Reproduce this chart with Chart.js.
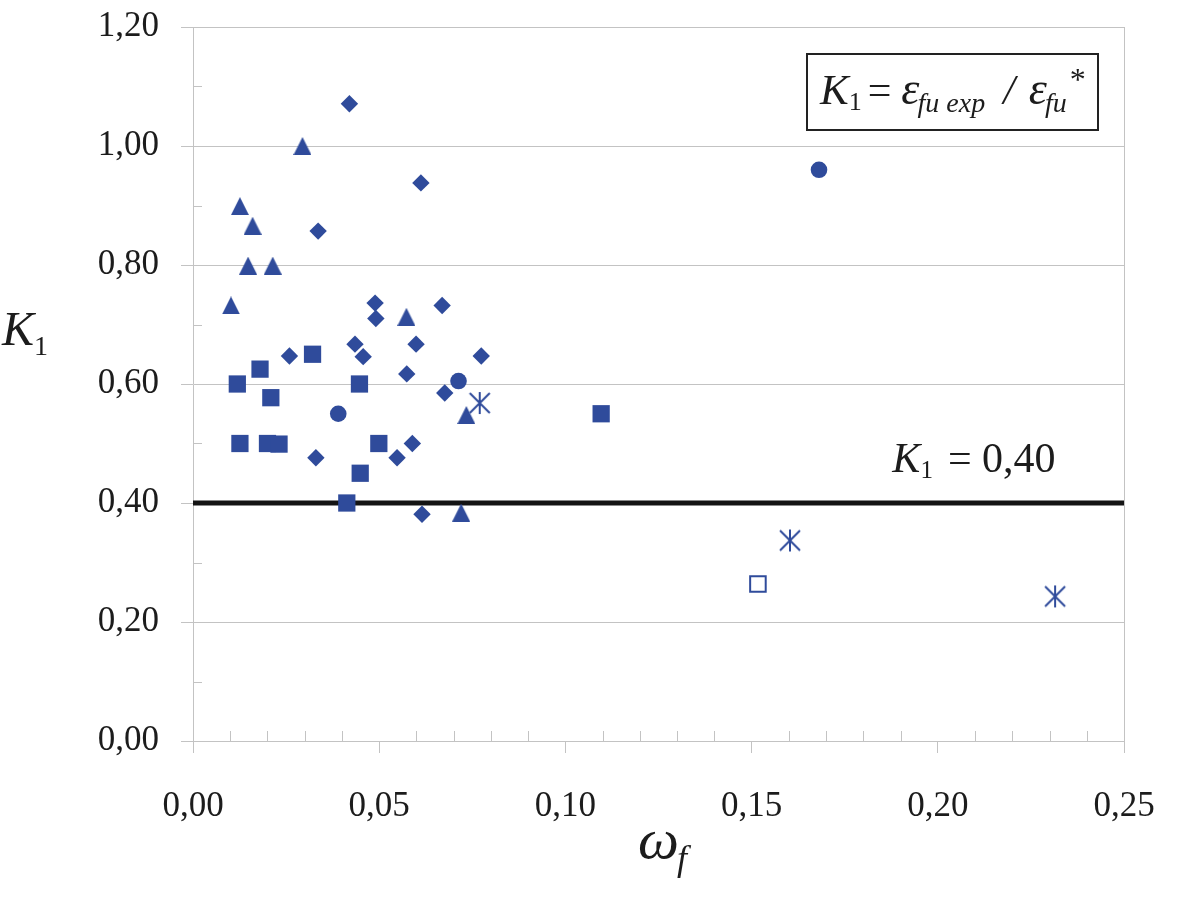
<!DOCTYPE html>
<html>
<head>
<meta charset="utf-8">
<script src="https://cdn.jsdelivr.net/npm/chart.js@4.4.1/dist/chart.umd.min.js"></script>
<style>
  html, body { margin: 0; padding: 0; background: #fff; }
</style>
</head>
<body>
<canvas id="k1Chart" width="1181" height="907"></canvas>
<script>
// omega_f (x) and K1 (y) values, one pair of arrays per marker type
var diamondX = [0.0420, 0.0612, 0.0336, 0.0489, 0.0491, 0.0669, 0.0259, 0.0435, 0.0457, 0.0599, 0.0774, 0.0574, 0.0676, 0.0589, 0.0548, 0.0330, 0.0615];
var diamondY = [1.071, 0.938, 0.857, 0.736, 0.710, 0.732, 0.647, 0.667, 0.646, 0.667, 0.647, 0.617, 0.585, 0.500, 0.476, 0.476, 0.381];
var triangleX = [0.0294, 0.0126, 0.0160, 0.0148, 0.0214, 0.0102, 0.0573, 0.0734, 0.0720];
var triangleY = [1.000, 0.899, 0.866, 0.799, 0.799, 0.732, 0.713, 0.548, 0.384];
var squareX = [0.0119, 0.0180, 0.0321, 0.0447, 0.0209, 0.0126, 0.0200, 0.0231, 0.0499, 0.0449, 0.0413, 0.1096];
var squareY = [0.600, 0.625, 0.650, 0.600, 0.577, 0.500, 0.500, 0.499, 0.500, 0.450, 0.400, 0.550];
var circleX = [0.0390, 0.0713, 0.1681];
var circleY = [0.550, 0.605, 0.960];
var starX = [0.0770, 0.1603, 0.2315];
var starY = [0.568, 0.337, 0.243];
var openSquareX = [0.1517];
var openSquareY = [0.264];
var limitX = [0, 0.25];
var limitY = [0.40, 0.40];

var blue = '#2F4B9B';
var gridColor = '#C3C3C3';
var textColor = '#1c1c1c';
var serif = "'Liberation Serif', 'DejaVu Serif', serif";

function pts(xs, ys) {
  return xs.map(function (x, i) { return { x: x, y: ys[i] }; });
}
function commaFmt(v) {
  return Number(v).toFixed(2).replace('.', ',');
}

// Excel-like markers that Chart.js does not ship
function makeTriangle() {
  var c = document.createElement('canvas');
  c.width = 18; c.height = 18;
  var g = c.getContext('2d');
  g.fillStyle = blue;
  g.beginPath();
  g.moveTo(9, 0); g.lineTo(18, 18); g.lineTo(0, 18);
  g.closePath();
  g.fill();
  return c;
}
function makeStar() {
  var c = document.createElement('canvas');
  c.width = 24; c.height = 24;
  var g = c.getContext('2d');
  g.strokeStyle = blue;
  g.lineWidth = 2;
  g.beginPath();
  g.moveTo(2, 2); g.lineTo(22, 22);
  g.moveTo(22, 2); g.lineTo(2, 22);
  g.moveTo(12, 1); g.lineTo(12, 23);
  g.stroke();
  return c;
}

function drawRuns(ctx, x, y, runs) {
  runs.forEach(function (r) {
    x += r.pad || 0;
    ctx.font = r.font;
    ctx.fillText(r.text, x, y + (r.dy || 0));
    x += ctx.measureText(r.text).width;
  });
}

var minorTicks = {
  id: 'minorTicks',
  beforeDatasetsDraw: function (chart) {
    var ctx = chart.ctx, xs = chart.scales.x, ys = chart.scales.y;
    ctx.save();
    ctx.strokeStyle = gridColor;
    ctx.lineWidth = 1;
    ctx.beginPath();
    for (var i = 1; i < 25; i++) {
      if (i % 5 === 0) continue;
      var px = Math.round(xs.getPixelForValue(i / 100)) + 0.5;
      ctx.moveTo(px, ys.bottom);
      ctx.lineTo(px, ys.bottom - 10);
    }
    for (var j = 1; j < 12; j += 2) {
      var py = Math.round(ys.getPixelForValue(j / 10)) + 0.5;
      ctx.moveTo(xs.left, py);
      ctx.lineTo(xs.left + 9, py);
    }
    ctx.stroke();
    ctx.restore();
  }
};

var labels = {
  id: 'labels',
  afterDraw: function (chart) {
    var ctx = chart.ctx, area = chart.chartArea, xs = chart.scales.x, ys = chart.scales.y;
    ctx.save();
    ctx.fillStyle = textColor;
    ctx.textBaseline = 'alphabetic';
    ctx.textAlign = 'left';

    // axis titles
    drawRuns(ctx, 2, 345, [
      { text: 'K', font: 'italic 48px ' + serif },
      { text: '1', font: '28px ' + serif, dy: 10 }
    ]);
    drawRuns(ctx, 638, 858, [
      { text: 'ω', font: 'italic 58px ' + serif },
      { text: 'f', font: 'italic 36px ' + serif, dy: 12, pad: -2 }
    ]);

    // formula box
    var bx = area.right - 317, by = area.top + 27;
    ctx.strokeStyle = '#222';
    ctx.lineWidth = 2;
    ctx.strokeRect(bx, by, 291, 76);
    drawRuns(ctx, bx + 13, by + 50, [
      { text: 'K', font: 'italic 43px ' + serif },
      { text: '1', font: '26px ' + serif, dy: 6 },
      { text: '=', font: '42px ' + serif, pad: 6 },
      { text: 'ε', font: 'italic 46px ' + serif, pad: 10 },
      { text: 'fu exp', font: 'italic 28px ' + serif, dy: 8, pad: -2 },
      { text: '/', font: 'italic 42px ' + serif, pad: 18 },
      { text: 'ε', font: 'italic 46px ' + serif, pad: 14 },
      { text: 'fu', font: 'italic 28px ' + serif, dy: 8, pad: -2 },
      { text: '*', font: '32px ' + serif, dy: -14, pad: 3 }
    ]);

    // limit label
    drawRuns(ctx, xs.getPixelForValue(0.1878), ys.getPixelForValue(0.452), [
      { text: 'K', font: 'italic 42px ' + serif },
      { text: '1', font: '25px ' + serif, dy: 6 },
      { text: '= 0,40', font: '42px ' + serif, pad: 15 }
    ]);
    ctx.restore();
  }
};

new Chart(document.getElementById('k1Chart').getContext('2d'), {
  type: 'scatter',
  data: {
    datasets: [{
      label: 'diamond',
      data: pts(diamondX, diamondY),
      pointStyle: 'rectRot',
      pointRadius: 8.7,
      pointBackgroundColor: blue,
      pointBorderWidth: 0
    }, {
      label: 'triangle',
      data: pts(triangleX, triangleY),
      pointStyle: makeTriangle(),
      pointRadius: 9
    }, {
      label: 'square',
      data: pts(squareX, squareY),
      pointStyle: 'rect',
      pointRadius: 12.2,
      pointBackgroundColor: blue,
      pointBorderWidth: 0
    }, {
      label: 'circle',
      data: pts(circleX, circleY),
      pointStyle: 'circle',
      pointRadius: 8.3,
      pointBackgroundColor: blue,
      pointBorderWidth: 0
    }, {
      label: 'star',
      data: pts(starX, starY),
      pointStyle: makeStar(),
      pointRadius: 11
    }, {
      label: 'open square',
      data: pts(openSquareX, openSquareY),
      pointStyle: 'rect',
      pointRadius: 11,
      pointBackgroundColor: '#ffffff',
      pointBorderColor: blue,
      pointBorderWidth: 2
    }, {
      label: 'K1 = 0,40',
      data: pts(limitX, limitY),
      showLine: true,
      borderColor: '#141414',
      borderWidth: 5,
      borderCapStyle: 'round',
      pointRadius: 0
    }]
  },
  options: {
    responsive: false,
    animation: false,
    devicePixelRatio: 1,
    layout: { padding: { left: 0, top: 27, right: 57, bottom: 0 } },
    plugins: { legend: { display: false }, tooltip: { enabled: false } },
    scales: {
      x: {
        type: 'linear',
        min: 0,
        max: 0.25,
        afterFit: function (s) {
          s.height = 166;
          s.paddingLeft = 0;
          s.paddingRight = 0;
        },
        ticks: {
          stepSize: 0.05,
          maxRotation: 0,
          padding: 33,
          color: textColor,
          font: { family: serif, size: 35 },
          callback: commaFmt
        },
        grid: {
          drawOnChartArea: true,
          color: function (c) { return c.index === 5 ? gridColor : 'rgba(0,0,0,0)'; },
          tickColor: gridColor,
          tickLength: 12
        },
        border: { display: true, color: gridColor, width: 1 }
      },
      y: {
        type: 'linear',
        min: 0,
        max: 1.2,
        afterFit: function (s) {
          s.width = 193;
          s.paddingTop = 0;
          s.paddingBottom = 0;
        },
        ticks: {
          stepSize: 0.2,
          padding: 22,
          color: textColor,
          font: { family: serif, size: 35 },
          callback: commaFmt
        },
        grid: {
          color: gridColor,
          tickColor: gridColor,
          tickLength: 12
        },
        border: { display: true, color: gridColor, width: 1 }
      }
    }
  },
  plugins: [minorTicks, labels]
});
</script>
</body>
</html>
